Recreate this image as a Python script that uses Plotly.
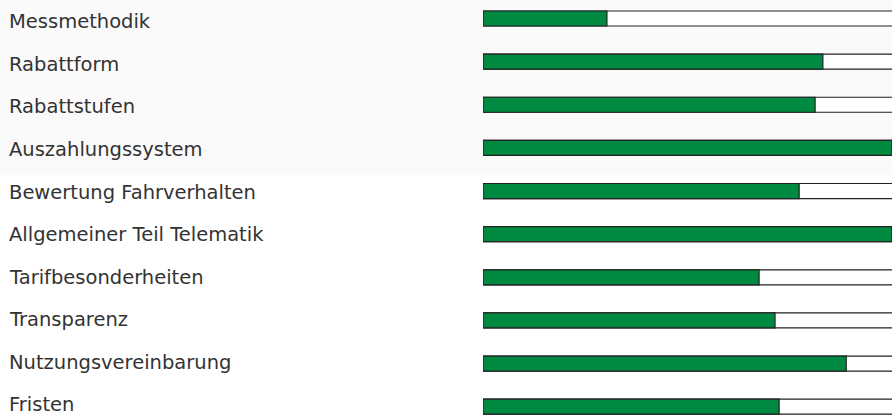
import plotly.graph_objects as go

categories = ["Messmethodik", "Rabattform", "Rabattstufen", "Auszahlungssystem",
              "Bewertung Fahrverhalten", "Allgemeiner Teil Telematik",
              "Tarifbesonderheiten", "Transparenz", "Nutzungsvereinbarung", "Fristen"]
values = [0.303, 0.831, 0.812, 1.0, 0.773, 1.0, 0.675, 0.714, 0.888, 0.724]
track = [1.05] * len(categories)

W, H = 892, 415
idx = list(range(len(categories)))

fig = go.Figure()
fig.add_trace(go.Bar(
    y=idx, x=track, orientation="h", width=0.348,
    marker=dict(color="#ffffff", line=dict(color="#222222", width=1.2)),
    hoverinfo="skip", showlegend=False))
fig.add_trace(go.Bar(
    y=idx, x=values, orientation="h", width=0.348,
    marker=dict(color="#008a41", line=dict(color="#222222", width=1.2)),
    showlegend=False, hovertext=categories))

for i, c in enumerate(categories):
    ypix = 22 + 42.5 * i
    fig.add_annotation(x=7 / W, xref="paper", y=1 - ypix / H, yref="paper", text=c,
                       showarrow=False, xanchor="left", yanchor="middle",
                       font=dict(family="DejaVu Sans", size=19.5, color="#333333"))

fig.add_shape(type="rect", xref="paper", yref="paper", x0=0, x1=1,
              y0=1 - 175 / H, y1=1, fillcolor="#fafafa", line_width=0, layer="below")

fig.update_layout(
    width=W, height=H, margin=dict(l=0, r=0, t=0, b=0),
    paper_bgcolor="#ffffff", plot_bgcolor="rgba(0,0,0,0)",
    barmode="overlay",
    xaxis=dict(domain=[483 / W, 1], range=[0, 1], visible=False, fixedrange=True),
    yaxis=dict(range=[9.193, -0.429], visible=False, fixedrange=True),
)
fig.write_html("out.html")
